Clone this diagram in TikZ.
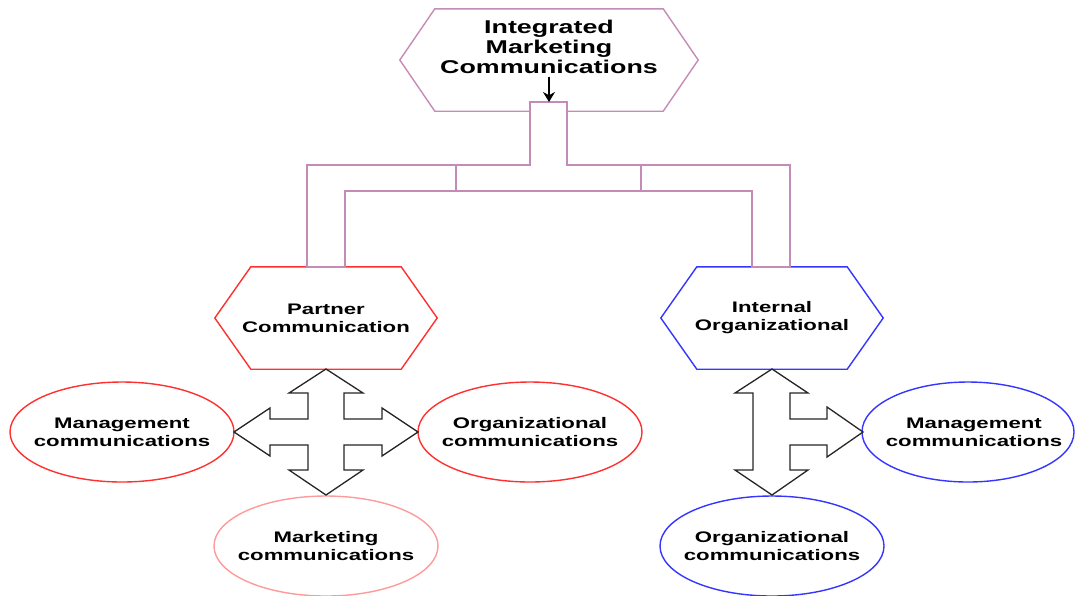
\documentclass[tikz,border=0pt]{standalone}
\usepackage{fontspec}
\newfontfamily\lblfont{Liberation Sans}[FakeStretch=1.45]
\usetikzlibrary{shapes.geometric,arrows.meta,calc}
\definecolor{pipec}{HTML}{C38BB5}
\definecolor{redc}{HTML}{FF3030}
\definecolor{pinkc}{HTML}{FF9A9A}
\definecolor{bluec}{HTML}{3535FF}
\newcommand\hexagonpath[3]{\draw[#3,line width=1.4pt] (#1.west) -- ([xshift=#2]#1.north west) -- ([xshift=-#2]#1.north east) -- (#1.east) -- ([xshift=-#2]#1.south east) -- ([xshift=#2]#1.south west) -- cycle;}
\begin{document}
\begin{tikzpicture}[x=1pt,y=-1pt,
 lbl/.style={font=\lblfont\bfseries\fontsize{15.3}{18}\selectfont, align=center, inner sep=0pt},
 oval/.style={line width=1.4pt},
 hexbox/.style={minimum width=222pt, minimum height=102pt, inner sep=0pt, lbl},
 pipe/.style={draw=pipec, line width=1.3pt, fill=white, line join=miter},
 bigarrow/.style={draw=black!85, line width=1.3pt, fill=white, line join=miter}
]
\clip (0,0) rectangle (1075,595);
\useasboundingbox (0,0) rectangle (1075,595);

% top hexagon
\node[hexbox, minimum width=298pt] (imc) at (549,60) {};
\hexagonpath{imc}{35pt}{draw=pipec}
\node[lbl, font=\lblfont\bfseries\fontsize{18.5}{20}\selectfont] (imct) at (549,47) {Integrated\\Marketing\\Communications};

% second level hexagons
\node[hexbox] (pc) at (326,318) {Partner\\Communication};
\hexagonpath{pc}{36pt}{draw=redc}
\node[hexbox] (io) at (772,318) {Internal\\Organizational};
\hexagonpath{io}{36pt}{draw=bluec}

% pipe connector
\coordinate (pipetop) at (549,102);
\draw[pipe] (530,102) -- (567,102) -- (567,165) -- (790,165) -- (790,267) -- (752,267) -- (752,191) -- (345,191) -- (345,267) -- (307,267) -- (307,165) -- (530,165) -- cycle;
\draw[draw=pipec, line width=1.3pt] (456,165) -- (456,191);
\draw[draw=pipec, line width=1.3pt] (641,165) -- (641,191);
\draw[-{Stealth[length=10pt,width=12pt]}, line width=1.3pt] ([yshift=-3pt]imct.south) -- (pipetop);

% ellipses
\node[lbl] (lm) at (122,432) {Management\\communications};
\draw[oval, draw=redc] (lm.center) ellipse [x radius=112, y radius=50];
\node[lbl] (lo) at (530,432) {Organizational\\communications};
\draw[oval, draw=redc] (lo.center) ellipse [x radius=112, y radius=50];
\node[lbl] (lk) at (326,546) {Marketing\\communications};
\draw[oval, draw=pinkc] (lk.center) ellipse [x radius=112, y radius=50];
\node[lbl] (rm) at (974,432) {Management\\communications};
\draw[oval, draw=bluec] ([xshift=-6pt]rm.center) ellipse [x radius=106, y radius=50];
\node[lbl] (ro) at (772,546) {Organizational\\communications};
\draw[oval, draw=bluec] (ro.center) ellipse [x radius=112, y radius=50];

% left cross arrow
\begin{scope}[shift={(326,432)}]
\draw[bigarrow] (0,-63) -- (37,-39) -- (18,-39) -- (18,-13) -- (56,-13) -- (56,-24) -- (92,0) -- (56,24) -- (56,13) -- (18,13) -- (18,38) -- (37,38) -- (0,63) -- (-37,38) -- (-18,38) -- (-18,13) -- (-56,13) -- (-56,24) -- (-92,0) -- (-56,-24) -- (-56,-13) -- (-18,-13) -- (-18,-39) -- (-37,-39) -- cycle;
\end{scope}

% right T arrow
\begin{scope}[shift={(772,432)}]
\draw[bigarrow] (0,-63) -- (36,-39) -- (18,-39) -- (18,-13) -- (55,-13) -- (55,-25) -- (91,0) -- (55,25) -- (55,13) -- (18,13) -- (18,38) -- (36,38) -- (0,63) -- (-37,38) -- (-19,38) -- (-19,-39) -- (-37,-39) -- cycle;
\end{scope}
\end{tikzpicture}
\end{document}
